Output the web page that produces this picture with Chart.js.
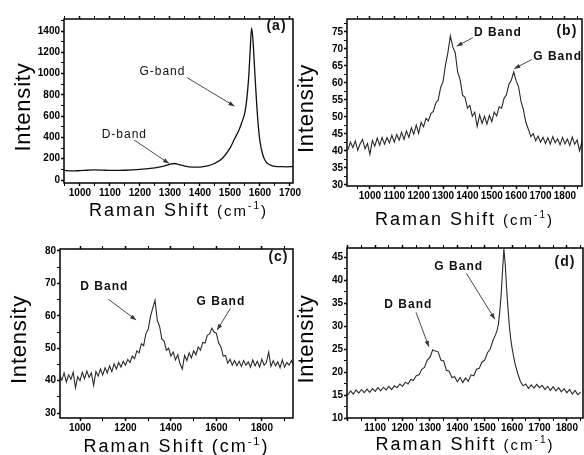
<!DOCTYPE html>
<html>
<head>
<meta charset="utf-8">
<script src="https://cdn.jsdelivr.net/npm/chart.js@4.4.1/dist/chart.umd.min.js"></script>
<style>
  html, body { margin: 0; padding: 0; background: #fff; }
  body { width: 584px; height: 455px; position: relative; overflow: hidden; }
  .panel { position: absolute; }
</style>
</head>
<body>
<div class="panel" style="left:0;top:0"><canvas id="chart-a" width="306" height="228"></canvas></div>
<div class="panel" style="left:296px;top:0"><canvas id="chart-b" width="288" height="228"></canvas></div>
<div class="panel" style="left:0;top:225px"><canvas id="chart-c" width="296" height="230"></canvas></div>
<div class="panel" style="left:296px;top:225px"><canvas id="chart-d" width="288" height="230"></canvas></div>
<script>
// Raman spectra
const shiftA = [947, 975, 1000, 1025, 1050, 1075, 1100, 1150, 1200, 1250,
  1280, 1300, 1315, 1330, 1350, 1375, 1400, 1425, 1450, 1475,
  1500, 1515, 1530, 1540, 1550, 1556, 1562, 1567, 1572, 1577,
  1582, 1588, 1594, 1600, 1610, 1620, 1635, 1650, 1670, 1690, 1710];
const intensityA = [90, 85, 88, 92, 95, 93, 90, 92, 100, 115,
  130, 148, 155, 145, 130, 122, 122, 132, 158, 205,
  300, 385, 470, 545, 640, 760, 950, 1200, 1430, 1300,
  1050, 760, 520, 360, 230, 170, 140, 128, 125, 124, 126];

const shiftB = [910, 920, 930, 940, 950, 960, 970, 980, 990, 1000,
  1010, 1020, 1030, 1040, 1050, 1060, 1070, 1080, 1090, 1100,
  1110, 1120, 1130, 1140, 1150, 1160, 1170, 1180, 1190, 1200,
  1210, 1220, 1230, 1240, 1250, 1260, 1270, 1280, 1290, 1300,
  1310, 1320, 1330, 1340, 1350, 1360, 1370, 1380, 1390, 1400,
  1410, 1420, 1430, 1440, 1450, 1460, 1470, 1480, 1490, 1500,
  1510, 1520, 1530, 1540, 1550, 1560, 1570, 1580, 1590, 1600,
  1610, 1620, 1630, 1640, 1650, 1660, 1670, 1680, 1690, 1700,
  1710, 1720, 1730, 1740, 1750, 1760, 1770, 1780, 1790, 1800,
  1810, 1820, 1830, 1840, 1850, 1860, 1870];
const intensityB = [40.3, 42.6, 41.0, 42.9, 40.2, 42.1, 43.4, 40.6, 42.2, 39.0,
  43.1, 41.4, 43.8, 41.7, 44.0, 42.0, 43.9, 42.4, 44.6, 42.6,
  44.8, 43.2, 45.5, 43.4, 45.9, 44.0, 46.8, 44.9, 47.6, 45.2,
  48.4, 47.1, 49.6, 48.8, 51.0, 51.6, 54.1, 55.0, 58.6, 60.4,
  65.3, 69.0, 73.8, 70.6, 68.9, 63.2, 61.0, 56.4, 55.8, 52.6,
  53.4, 50.2, 51.4, 47.2, 50.6, 48.1, 50.2, 47.9, 50.5, 48.6,
  51.4, 50.3, 53.0, 52.6, 55.4, 56.5, 59.6, 60.8, 63.2, 60.6,
  58.8, 54.5, 52.0, 48.3, 46.4, 44.2, 45.1, 43.0, 44.4, 42.6,
  44.0, 42.2, 43.9, 42.0, 44.2, 42.4, 43.6, 41.8, 44.0, 42.1,
  43.5, 41.6, 44.1, 42.0, 43.2, 40.0, 42.8];

const shiftC = [910, 920, 930, 940, 950, 960, 970, 980, 990, 1000,
  1010, 1020, 1030, 1040, 1050, 1060, 1070, 1080, 1090, 1100,
  1110, 1120, 1130, 1140, 1150, 1160, 1170, 1180, 1190, 1200,
  1210, 1220, 1230, 1240, 1250, 1260, 1270, 1280, 1290, 1300,
  1310, 1320, 1330, 1340, 1350, 1360, 1370, 1380, 1390, 1400,
  1410, 1420, 1430, 1440, 1450, 1460, 1470, 1480, 1490, 1500,
  1510, 1520, 1530, 1540, 1550, 1560, 1570, 1580, 1590, 1600,
  1610, 1620, 1630, 1640, 1650, 1660, 1670, 1680, 1690, 1700,
  1710, 1720, 1730, 1740, 1750, 1760, 1770, 1780, 1790, 1800,
  1810, 1820, 1830, 1840, 1850, 1860, 1870, 1880, 1890, 1900,
  1910, 1920, 1930, 1940];
const intensityC = [41.6, 40.2, 42.4, 39.6, 41.8, 40.4, 42.6, 37.8, 41.2, 40.0,
  42.6, 40.6, 43.0, 41.0, 42.4, 38.6, 42.8, 41.4, 43.6, 41.8,
  44.0, 42.4, 44.6, 42.8, 45.2, 43.6, 45.6, 44.2, 46.0, 44.8,
  46.6, 45.6, 47.6, 46.8, 49.2, 48.6, 51.4, 50.8, 54.6, 55.8,
  59.8, 62.4, 64.8, 58.6, 56.8, 52.8, 52.2, 49.4, 50.0, 47.6,
  48.8, 46.4, 48.0, 45.2, 43.6, 47.8, 46.2, 48.6, 47.0, 49.2,
  48.0, 50.4, 49.4, 51.8, 51.6, 54.0, 54.4, 56.2, 55.0, 54.6,
  51.6, 50.4, 47.6, 47.8, 45.4, 46.6, 44.8, 46.2, 44.6, 46.0,
  44.4, 46.2, 44.8, 45.8, 44.2, 46.4, 44.6, 46.0, 44.2, 46.6,
  44.8, 45.6, 48.8, 44.4, 46.2, 44.6, 45.8, 44.0, 46.4, 44.2,
  45.6, 44.8, 46.2, 44.6];

const shiftD = [1000, 1010, 1020, 1030, 1040, 1050, 1060, 1070, 1080, 1090,
  1100, 1110, 1120, 1130, 1140, 1150, 1160, 1170, 1180, 1190,
  1200, 1210, 1220, 1230, 1240, 1250, 1260, 1270, 1280, 1290,
  1300, 1310, 1320, 1330, 1340, 1350, 1360, 1370, 1380, 1390,
  1400, 1410, 1420, 1430, 1440, 1450, 1460, 1470, 1480, 1490,
  1500, 1510, 1520, 1530, 1540,
  1545, 1550, 1555, 1560, 1565, 1570, 1575, 1580, 1585, 1590, 1595, 1600,
  1610, 1620, 1630, 1640, 1650, 1660, 1670, 1680, 1690, 1700,
  1710, 1720, 1730, 1740, 1750, 1760, 1770, 1780, 1790, 1800,
  1810, 1820, 1830, 1840, 1850];
const intensityD = [15.0, 15.9, 15.2, 16.1, 15.4, 16.2, 15.5, 16.3, 15.6, 16.4,
  15.8, 16.6, 15.9, 16.7, 16.1, 16.9, 16.2, 17.0, 16.6, 17.4,
  16.9, 17.8, 17.4, 18.4, 18.2, 19.2, 19.4, 20.6, 21.0, 22.6,
  23.2, 24.8, 24.6, 24.4, 22.6, 22.4, 20.4, 20.2, 18.8, 19.0,
  17.9, 18.8, 17.7, 18.7, 18.0, 19.4, 19.2, 20.6, 20.8, 22.2,
  22.6, 24.2, 25.0, 26.8, 28.2,
  29.0, 30.4, 33.2, 36.8, 42.0, 46.8, 43.4, 38.2, 33.8, 30.0, 27.2, 25.2,
  22.0, 19.8, 18.0, 17.0, 17.4, 16.4, 17.2, 16.5, 17.3, 16.6,
  17.1, 16.2, 16.9, 16.0, 16.8, 15.9, 16.6, 15.7, 16.4, 15.5,
  16.2, 15.2, 16.0, 15.1, 15.6];

const panelTags = ['(a)', '(b)', '(c)', '(d)'];
const yTitle = 'Intensity';
const xTitle = 'Raman Shift ';

const FAMILY = '"Liberation Sans", Arial, sans-serif';
const TICK_FAMILY = '"Liberation Sans Narrow", "Arial Narrow", "Liberation Sans", Arial, sans-serif';

function isMajor(v, m) {
  return Math.abs(v / m - Math.round(v / m)) < 1e-6;
}

// draws frame, notes, arrows and the axis titles
function notes(p) {
  return {
    id: 'notes',
    afterDraw(chart) {
      const { ctx, chartArea: a } = chart;
      const sx = chart.scales.x, sy = chart.scales.y;
      ctx.save();
      ctx.strokeStyle = '#000';
      ctx.lineWidth = 1.5;
      ctx.strokeRect(a.left, a.top, a.right - a.left, a.bottom - a.top);

      ctx.strokeStyle = '#333';
      ctx.fillStyle = '#333';
      ctx.lineWidth = 0.9;
      p.arrows.forEach(ar => {
        const x1 = sx.getPixelForValue(ar[0]), y1 = sy.getPixelForValue(ar[1]);
        const x2 = sx.getPixelForValue(ar[2]), y2 = sy.getPixelForValue(ar[3]);
        const ang = Math.atan2(y2 - y1, x2 - x1);
        ctx.beginPath();
        ctx.moveTo(x1, y1);
        ctx.lineTo(x2, y2);
        ctx.stroke();
        ctx.beginPath();
        ctx.moveTo(x2, y2);
        ctx.lineTo(x2 - 6 * Math.cos(ang) + 2.2 * Math.sin(ang), y2 - 6 * Math.sin(ang) - 2.2 * Math.cos(ang));
        ctx.lineTo(x2 - 6 * Math.cos(ang) - 2.2 * Math.sin(ang), y2 - 6 * Math.sin(ang) + 2.2 * Math.cos(ang));
        ctx.closePath();
        ctx.fill();
      });

      ctx.fillStyle = '#111';
      ctx.textAlign = 'center';
      ctx.textBaseline = 'middle';
      p.labels.forEach(l => {
        ctx.font = l.style;
        ctx.letterSpacing = l.spacing || '0px';
        ctx.fillText(l.text, sx.getPixelForValue(l.x), sy.getPixelForValue(l.y));
      });

      // y title
      ctx.fillStyle = '#000';
      ctx.save();
      ctx.translate(a.left - 40, (a.top + a.bottom) / 2 + 6);
      ctx.rotate(-Math.PI / 2);
      ctx.font = '22px ' + FAMILY;
      ctx.letterSpacing = '0.8px';
      ctx.fillText(yTitle, 0, 0);
      ctx.restore();

      // x title with superscript
      const parts = [
        { t: xTitle, size: 18 },
        { t: '(cm', size: p.unitSize },
        { t: '-1', size: p.supSize, rise: 7 },
        { t: ')', size: p.unitSize }
      ];
      ctx.letterSpacing = '2px';
      let total = 0;
      parts.forEach(s => {
        ctx.font = s.size + 'px ' + FAMILY;
        s.w = ctx.measureText(s.t).width;
        total += s.w;
      });
      let cx = (a.left + a.right) / 2 - total / 2;
      const base = a.bottom + p.xTitleDy + 6.5;
      ctx.textAlign = 'left';
      ctx.textBaseline = 'alphabetic';
      parts.forEach(s => {
        ctx.font = s.size + 'px ' + FAMILY;
        ctx.fillText(s.t, cx, base - (s.rise || 0));
        cx += s.w;
      });
      ctx.letterSpacing = '0px';
      ctx.restore();
    }
  };
}

function panel(id, xs, ys, p) {
  const tickFont = { family: TICK_FAMILY, size: 10, weight: 'bold' };
  const grid = major => ({
    drawOnChartArea: false,
    tickLength: 3,
    tickColor: '#000',
    tickWidth: c => (c.tick && isMajor(c.tick.value, major)) ? 1.5 : 1
  });
  const xTicks = {
    stepSize: p.xStep, includeBounds: false, autoSkip: false, maxRotation: 0,
    font: tickFont, color: '#000', padding: 1,
    callback: v => (isMajor(v, p.xMajor) && v - p.xMin > 12) ? v : ''
  };
  new Chart(document.getElementById(id), {
    type: 'line',
    data: {
      datasets: [{
        data: xs.map((x, i) => ({ x: x, y: ys[i] })),
        borderColor: p.color,
        borderWidth: p.width,
        pointRadius: 0,
        tension: 0,
        cubicInterpolationMode: p.smooth ? 'monotone' : 'default',
        fill: false
      }]
    },
    options: {
      responsive: false,
      animation: false,
      devicePixelRatio: 1,
      layout: { autoPadding: false, padding: { left: 0, top: 0, right: p.padR, bottom: 0 } },
      plugins: { legend: { display: false }, tooltip: { enabled: false } },
      scales: {
        x: {
          type: 'linear', position: 'bottom', min: p.xMin, max: p.xMax,
          ticks: xTicks, grid: grid(p.xMajor), border: { display: false },
          afterFit: s => { s.height = p.xH; s.paddingLeft = 0; s.paddingRight = 0; }
        },
        x2: {
          type: 'linear', position: 'top', min: p.xMin, max: p.xMax,
          ticks: Object.assign({}, xTicks, { display: false }), grid: grid(p.xMajor), border: { display: false },
          afterFit: s => { s.height = p.topH; s.paddingLeft = 0; s.paddingRight = 0; }
        },
        y: {
          type: 'linear', position: 'left', min: p.yMin, max: p.yMax,
          ticks: {
            stepSize: p.yStep, includeBounds: false, autoSkip: false,
            font: tickFont, color: '#000', padding: 1,
            callback: v => isMajor(v, p.yMajor) ? v : ''
          },
          grid: grid(p.yMajor), border: { display: false },
          afterFit: s => { s.width = p.yW; s.paddingTop = 0; s.paddingBottom = 0; }
        }
      }
    },
    plugins: [notes(p)]
  });
}

const noteFont = w => w + ' 12px ' + FAMILY;
const tagFont = 'bold 14px ' + FAMILY;

panel('chart-a', shiftA, intensityA, {
  xMin: 947, xMax: 1710, xStep: 50, xMajor: 100,
  yMin: -28, yMax: 1513, yStep: 100, yMajor: 200,
  yW: 64, topH: 19, xH: 45, padR: 13, xTitleDy: 26,
  unitSize: 15, supSize: 10, color: '#111', width: 1.3, smooth: true,
  labels: [
    { text: 'G-band', x: 1275, y: 1015, style: noteFont('normal'), spacing: '1px' },
    { text: 'D-band', x: 1148, y: 422, style: noteFont('normal'), spacing: '1px' },
    { text: panelTags[0], x: 1655, y: 1450, style: tagFont, spacing: '1px' }
  ],
  arrows: [[1357, 962, 1515, 694], [1181, 375, 1297, 156]]
});

panel('chart-b', shiftB, intensityB, {
  xMin: 906, xMax: 1870, xStep: 50, xMajor: 100,
  yMin: 29.7, yMax: 78.8, yStep: 2.5, yMajor: 5,
  yW: 51, topH: 19, xH: 42, padR: 2, xTitleDy: 32,
  unitSize: 15, supSize: 10, color: '#2a2a2a', width: 1.1, smooth: false,
  labels: [
    { text: 'D Band', x: 1525, y: 74.7, style: noteFont('bold'), spacing: '1px' },
    { text: 'G Band', x: 1770, y: 67.7, style: noteFont('bold'), spacing: '1px' },
    { text: panelTags[1], x: 1808, y: 75.2, style: tagFont, spacing: '1px' }
  ],
  arrows: [[1422, 73.3, 1356, 70.8], [1664, 66.9, 1592, 64.2]]
});

panel('chart-c', shiftC, intensityC, {
  xMin: 912, xMax: 1937, xStep: 100, xMajor: 200,
  yMin: 28.5, yMax: 80.6, yStep: 5, yMajor: 10,
  yW: 60, topH: 24, xH: 37, padR: 3, xTitleDy: 27,
  unitSize: 18, supSize: 11, color: '#2a2a2a', width: 1.1, smooth: false,
  labels: [
    { text: 'D Band', x: 1107, y: 68.9, style: noteFont('bold'), spacing: '1px' },
    { text: 'G Band', x: 1620, y: 64.5, style: noteFont('bold'), spacing: '1px' },
    { text: panelTags[2], x: 1873, y: 78.0, style: tagFont, spacing: '1px' }
  ],
  arrows: [[1125, 65.1, 1247, 58.7], [1662, 62.3, 1603, 55.6]]
});

panel('chart-d', shiftD, intensityD, {
  xMin: 997, xMax: 1859, xStep: 50, xMajor: 100,
  yMin: 10, yMax: 47, yStep: 2.5, yMajor: 5,
  yW: 51, topH: 23, xH: 37, padR: 1, xTitleDy: 25,
  unitSize: 15, supSize: 10, color: '#2a2a2a', width: 1.1, smooth: false,
  labels: [
    { text: 'G Band', x: 1405, y: 43, style: noteFont('bold'), spacing: '1px' },
    { text: 'D Band', x: 1221, y: 34.6, style: noteFont('bold'), spacing: '1px' },
    { text: panelTags[3], x: 1793, y: 44, style: tagFont, spacing: '1px' }
  ],
  arrows: [[1433, 41.5, 1537, 31.5], [1249, 33, 1296, 25.5]]
});
</script>
</body>
</html>
